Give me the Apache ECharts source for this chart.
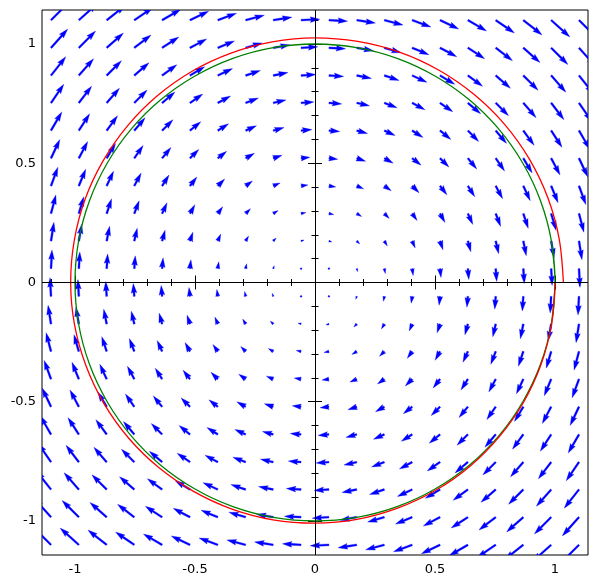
<!DOCTYPE html>
<html><head><meta charset="utf-8">
<script src="https://cdn.jsdelivr.net/npm/echarts@6/dist/echarts.min.js"></script>
<style>html,body{margin:0;padding:0;background:#fff}#c{width:598px;height:585px}</style>
</head><body><div id="c"></div>
<script>
// grid of sample points of the vector field (same in x and y)
const gridValues = [-1.1, -0.984, -0.868, -0.753, -0.637, -0.521, -0.405, -0.289, -0.174, -0.058,
                    0.058, 0.174, 0.289, 0.405, 0.521, 0.637, 0.753, 0.868, 0.984, 1.1];
// vector field (y, -x)
function fieldU(x, y) { return y; }
function fieldV(x, y) { return -x; }

const majorTicks = [-1, -0.5, 0, 0.5, 1];
const minorTicks = [-1.1, -1, -0.9, -0.8, -0.7, -0.6, -0.5, -0.4, -0.3, -0.2, -0.1, 0,
                    0.1, 0.2, 0.3, 0.4, 0.5, 0.6, 0.7, 0.8, 0.9, 1, 1.1];

// green curve: unit circle
const greenX = [0.985, 1, 0.985, 0.940, 0.866, 0.766, 0.643, 0.5, 0.342, 0.174, 0, -0.174, -0.342, -0.5, -0.643, -0.766, -0.866, -0.940, -0.985,
                -1, -0.985, -0.940, -0.866, -0.766, -0.643, -0.5, -0.342, -0.174, 0, 0.174, 0.342, 0.5, 0.643, 0.766, 0.866, 0.940, 0.985, 1, 0.985];
const greenY = [-0.174, 0, 0.174, 0.342, 0.5, 0.643, 0.766, 0.866, 0.940, 0.985, 1, 0.985, 0.940, 0.866, 0.766, 0.643, 0.5, 0.342, 0.174,
                0, -0.174, -0.342, -0.5, -0.643, -0.766, -0.866, -0.940, -0.985, -1, -0.985, -0.940, -0.866, -0.766, -0.643, -0.5, -0.342, -0.174, 0, 0.174];

// red curve: slowly outward spiral starting at (1, 0), clockwise
const redX = [1.000, 0.986, 0.942, 0.869, 0.769, 0.646, 0.503, 0.344, 0.175, 0, -0.175, -0.346, -0.506, -0.651, -0.777, -0.879, -0.955, -1.002,
              -1.018, -1.003, -0.958, -0.883, -0.782, -0.657, -0.512, -0.350, -0.178, 0, 0.178, 0.352, 0.515, 0.662, 0.790, 0.894, 0.971, 1.018, 1.035];
const redY = [0, -0.174, -0.343, -0.502, -0.645, -0.770, -0.871, -0.946, -0.993, -1.009, -0.995, -0.950, -0.876, -0.776, -0.652, -0.508, -0.347, -0.177,
              0, 0.177, 0.349, 0.510, 0.656, 0.783, 0.886, 0.962, 1.009, 1.026, 1.011, 0.966, 0.891, 0.789, 0.663, 0.516, 0.353, 0.180, 0];

const arrowData = [];
gridValues.forEach(function (x) {
  gridValues.forEach(function (y) {
    arrowData.push([x, y, fieldU(x, y), fieldV(x, y)]);
  });
});
const greenData = greenX.map(function (x, i) { return [x, greenY[i]]; });
const redData = redX.map(function (x, i) { return [x, redY[i]]; });

const XMIN = -1.1375, XMAX = 1.1375, YMIN = -1.1426, YMAX = 1.1426;
const font = { fontFamily: 'DejaVu Sans', fontSize: 13, color: '#000' };

function mkX(pos, ticks, len, labels) {
  return {
    type: 'value', min: XMIN, max: XMAX, position: pos,
    axisLine: { show: false },
    splitLine: { show: false },
    axisTick: { show: true, inside: true, length: len, customValues: ticks, lineStyle: { color: '#000', width: 1 } },
    axisLabel: labels ? Object.assign({ show: true, customValues: majorTicks, margin: 8, formatter: function (v) { return String(v); } }, font) : { show: false }
  };
}
function mkY(pos, ticks, len, labels) {
  return {
    type: 'value', min: YMIN, max: YMAX, position: pos,
    axisLine: { show: false },
    splitLine: { show: false },
    axisTick: { show: true, inside: true, length: len, customValues: ticks, lineStyle: { color: '#000', width: 1 } },
    axisLabel: labels ? Object.assign({ show: true, customValues: majorTicks, margin: 6, formatter: function (v) { return String(v); } }, font) : { show: false }
  };
}

// quiver-like arrow geometry (in units of shaft width)
const W = 1.9, K = 17;
function arrowShape(Lw) {
  const hl = 5, hal = 4.5, hw = 3;
  if (Lw < 1) {
    const X = [], Y = [];
    for (let i = 0; i < 7; i++) { const t = i * Math.PI / 3.5; X.push(Math.cos(t) * 0.5); Y.push(Math.sin(t) * 0.5); }
    return [X, Y];
  }
  if (Lw < hl) {
    const s = Lw / hl;
    return [[0, hl - hal, 0, hl, 0, hl - hal, 0].map(function (v) { return v * s; }),
            [0.5, 0.5, hw / 2, 0, -hw / 2, -0.5, -0.5].map(function (v) { return v * s; })];
  }
  return [[0, Lw - hal, Lw - hl, Lw, Lw - hl, Lw - hal, 0],
          [0.5, 0.5, hw / 2, 0, -hw / 2, -0.5, -0.5]];
}

const chart = echarts.init(document.getElementById('c'), null, { renderer: 'canvas' });
chart.setOption({
  animation: false,
  backgroundColor: '#fff',
  grid: { left: 42, top: 10, width: 546, height: 545, show: true, borderColor: '#000', borderWidth: 1, backgroundColor: 'transparent' },
  xAxis: [mkX('bottom', majorTicks, 7, true), mkX('bottom', minorTicks, 3.5, false),
          mkX('top', majorTicks, 7, false), mkX('top', minorTicks, 3.5, false)],
  yAxis: [mkY('left', majorTicks, 7, true), mkY('left', minorTicks, 3.5, false),
          mkY('right', majorTicks, 7, false), mkY('right', minorTicks, 3.5, false)],
  series: [
    {
      type: 'line', data: [[0, 0]], showSymbol: false, silent: true, z: 1,
      lineStyle: { width: 0 },
      markLine: {
        silent: true, symbol: 'none', label: { show: false },
        lineStyle: { color: '#000', width: 1, type: 'solid' },
        emphasis: { disabled: true },
        data: [{ xAxis: 0 }, { yAxis: 0 }]
      }
    },
    {
      type: 'custom', data: arrowData, clip: true, z: 2, silent: true,
      encode: { x: 0, y: 1 },
      renderItem: function (params, api) {
        const x = api.value(0), y = api.value(1), u = api.value(2), v = api.value(3);
        const p = api.coord([x, y]);
        const mag = Math.sqrt(u * u + v * v);
        const Lw = K * mag / W;
        const ang = Math.atan2(-v, u);
        const c = Math.cos(ang), s = Math.sin(ang);
        const sh = arrowShape(Lw);
        const pts = sh[0].map(function (xx, i) {
          const yy = sh[1][i];
          return [p[0] + W * (xx * c - yy * s), p[1] + W * (xx * s + yy * c)];
        });
        return { type: 'polygon', shape: { points: pts }, style: { fill: '#0000ff', stroke: '#0000ff', lineWidth: 0.3 } };
      }
    },
    {
      type: 'line', data: greenData, smooth: 0.33, showSymbol: false, silent: true, z: 3,
      lineStyle: { color: '#008000', width: 1.3 }
    },
    {
      type: 'line', data: redData, smooth: 0.33, showSymbol: false, silent: true, z: 4,
      lineStyle: { color: '#ff0000', width: 1.3 }
    }
  ]
});
</script>
</body></html>
